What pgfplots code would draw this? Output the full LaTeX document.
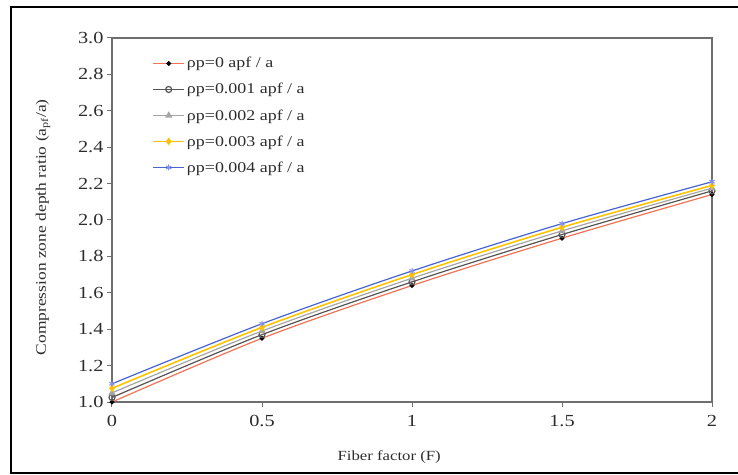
\documentclass[border=0pt]{standalone}
\usepackage{fontspec}
\setmainfont{Liberation Serif}[FakeStretch=1.2]
\usepackage{pgfplots}
\pgfplotsset{compat=1.18}

\definecolor{sRed}{RGB}{240,115,85}
\definecolor{sDark}{RGB}{85,85,85}
\definecolor{sGray}{RGB}{165,165,165}
\definecolor{sGold}{RGB}{255,195,0}
\definecolor{sBlue}{RGB}{70,100,210}
\definecolor{sStar}{RGB}{130,145,235}
\definecolor{axgray}{RGB}{110,110,110}
\definecolor{txt}{RGB}{45,45,45}

\begin{document}
\begin{tikzpicture}
\useasboundingbox (-112bp,-73bp) rectangle (626bp,402bp);
\begin{axis}[
    scale only axis,
    width=600bp, height=364bp,
    xmin=0, xmax=2,
    ymin=1, ymax=3,
    xtick={0,0.5,1,1.5,2},
    ytick={1.0,1.2,1.4,1.6,1.8,2.0,2.2,2.4,2.6,2.8,3.0},
    yticklabel style={/pgf/number format/.cd, fixed, fixed zerofill, precision=1},
    xticklabel style={yshift=-5bp},
    /pgf/number format/assume math mode=true,
    tick align=outside,
    tick pos=left,
    major tick length=5bp,
    axis line style={draw=axgray, line width=1.2bp},
    tick style={draw=axgray, line width=1bp},
    tick label style={font=\fontsize{17}{20}\selectfont, text=txt},
    xlabel={Fiber factor (F)},
    ylabel={Compression zone depth ratio (a\textsubscript{pf}/a)},
    every axis x label/.style={at={(axis description cs:0.462,-0.151)}, anchor=center,
        font=\fontsize{14}{17}\selectfont, text=txt},
    every axis y label/.style={at={(axis description cs:-0.115,0.48)}, rotate=90, anchor=center,
        font=\fontsize{14.6}{17}\selectfont, text=txt},
    legend style={at={(axis description cs:0.062,0.958)}, anchor=north west,
        draw=none, fill=none, font=\fontsize{15}{18}\selectfont, text=txt,
        row sep=10bp},
    legend cell align=left,
    legend image code/.code={\draw[mark repeat=2,mark phase=2,#1]
        plot coordinates {(0bp,0bp) (15.5bp,0bp) (31bp,0bp)};},
]
% rho_p = 0
\addplot[color=sRed, line width=1.2bp, smooth, mark=*, mark size=1.8bp,
    mark options={fill=black, draw=black}] coordinates {
    (0,1.000) (0.5,1.350) (1,1.640) (1.5,1.900) (2,2.140)
};
% rho_p = 0.001
\addplot[color=sDark, line width=1.2bp, smooth, mark=o, mark size=3bp,
    mark options={fill=white, draw=sDark}] coordinates {
    (0,1.025) (0.5,1.370) (1,1.660) (1.5,1.920) (2,2.160)
};
% rho_p = 0.002
\addplot[color=sGray, line width=1.2bp, smooth, mark=triangle*, mark size=3bp,
    mark options={fill=sGray, draw=sGray}] coordinates {
    (0,1.050) (0.5,1.390) (1,1.680) (1.5,1.940) (2,2.175)
};
% rho_p = 0.003
\addplot[color=sGold, line width=1.6bp, smooth, mark=diamond*, mark size=2.5bp,
    mark options={fill=sGold, draw=sGold}] coordinates {
    (0,1.075) (0.5,1.410) (1,1.700) (1.5,1.960) (2,2.190)
};
% rho_p = 0.004
\addplot[color=sBlue, line width=1.2bp, smooth, mark=asterisk, mark size=3bp,
    mark options={draw=sStar, line width=1bp}] coordinates {
    (0,1.100) (0.5,1.430) (1,1.720) (1.5,1.980) (2,2.210)
};
\legend{ρp=0 apf / a, ρp=0.001 apf / a, ρp=0.002 apf / a, ρp=0.003 apf / a, ρp=0.004 apf / a}
\end{axis}
% outer frame (right edge cut off in the reference)
\draw[black, line width=1.6bp] (626bp,395bp) -- (-101bp,395bp) -- (-101bp,-71bp) -- (626bp,-71bp);
\end{tikzpicture}
\end{document}
